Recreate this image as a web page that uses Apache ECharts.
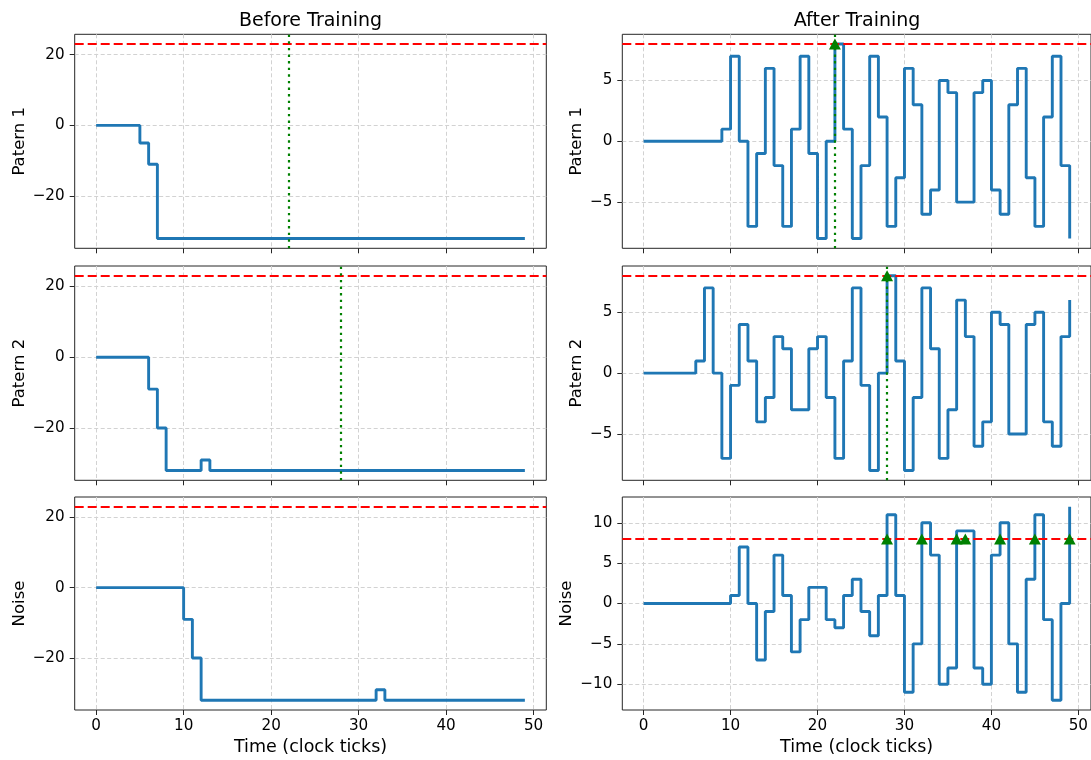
<!DOCTYPE html>
<html><head><meta charset="utf-8">
<script src="https://cdn.jsdelivr.net/npm/echarts@6/dist/echarts.min.js"></script>
<style>html,body{margin:0;padding:0;background:#fff}#c{width:1091px;height:760px}</style>
</head><body><div id="c"></div>
<script>
// ---------- data ----------
const times = [0,1,2,3,4,5,6,7,8,9,10,11,12,13,14,15,16,17,18,19,20,21,22,23,24,25,26,27,28,29,30,31,32,33,34,35,36,37,38,39,40,41,42,43,44,45,46,47,48,49];

const p1Before = [
  0,0,0,0,0,-5,-11,-32,-32,-32,
  -32,-32,-32,-32,-32,-32,-32,-32,-32,-32,
  -32,-32,-32,-32,-32,-32,-32,-32,-32,-32,
  -32,-32,-32,-32,-32,-32,-32,-32,-32,-32,
  -32,-32,-32,-32,-32,-32,-32,-32,-32,-32];
const p2Before = [
  0,0,0,0,0,0,-9,-20,-32,-32,
  -32,-32,-29,-32,-32,-32,-32,-32,-32,-32,
  -32,-32,-32,-32,-32,-32,-32,-32,-32,-32,
  -32,-32,-32,-32,-32,-32,-32,-32,-32,-32,
  -32,-32,-32,-32,-32,-32,-32,-32,-32,-32];
const noiseBefore = [
  0,0,0,0,0,0,0,0,0,0,
  -9,-20,-32,-32,-32,-32,-32,-32,-32,-32,
  -32,-32,-32,-32,-32,-32,-32,-32,-32,-32,
  -32,-32,-29,-32,-32,-32,-32,-32,-32,-32,
  -32,-32,-32,-32,-32,-32,-32,-32,-32,-32];

const p1After = [
  0,0,0,0,0,0,0,0,0,1,
  7,0,-7,-1,6,-2,-7,1,7,-1,
  -8,0,8,1,-8,-2,7,2,-7,-3,
  6,3,-6,-4,5,4,-5,-5,4,5,
  -4,-6,3,6,-3,-7,2,7,-2,-8];
const p2After = [
  0,0,0,0,0,0,1,7,0,-7,
  -1,4,1,-4,-2,3,2,-3,-3,2,
  3,-2,-7,1,7,-1,-8,0,8,1,
  -8,-2,7,2,-7,-3,6,3,-6,-4,
  5,4,-5,-5,4,5,-4,-6,3,6];
const noiseAfter = [
  0,0,0,0,0,0,0,0,0,0,
  1,7,0,-7,-1,6,1,-6,-2,2,
  2,-2,-3,1,3,-1,-4,1,11,1,
  -11,-5,10,6,-10,-8,9,9,-8,-10,
  6,10,-5,-11,3,11,-2,-12,0,12];

const thresholdBefore = 23;
const thresholdAfter = 8;
const targetTimes = [22, 28];           // pattern 1, pattern 2
const spikesP1After = [22];
const spikesP2After = [28];
const spikesNoiseAfter = [28, 32, 36, 37, 41, 45, 49];

const rowLabels = ['Patern 1', 'Patern 2', 'Noise'];
const colTitles = ['Before Training', 'After Training'];
const xLabel = 'Time (clock ticks)';
const xTicks = [0, 10, 20, 30, 40, 50];
const yTicksBefore = [-20, 0, 20];
const yTicksAfterPattern = [-5, 0, 5];
const yTicksAfterNoise = [-10, -5, 0, 5, 10];

// ---------- layout ----------
const FONT = "'DejaVu Sans', sans-serif";
const colLeft = [74.7, 622.3];
const gridW = 471.6;
const rowTop = [34.3, 266, 497];
const rowH = [214, 214.3, 213];
const xRange = [-2.45, 51.45];

const panels = [
  {data: p1Before, thr: thresholdBefore, target: targetTimes[0], spikes: [], yr: [-34.75, 25.75], yt: yTicksBefore, split: 3, gap: 46},
  {data: p1After, thr: thresholdAfter, target: targetTimes[0], spikes: spikesP1After, yr: [-8.8, 8.8], yt: yTicksAfterPattern, split: 4, gap: 37},
  {data: p2Before, thr: thresholdBefore, target: targetTimes[1], spikes: [], yr: [-34.75, 25.75], yt: yTicksBefore, split: 3, gap: 46},
  {data: p2After, thr: thresholdAfter, target: targetTimes[1], spikes: spikesP2After, yr: [-8.8, 8.8], yt: yTicksAfterPattern, split: 4, gap: 37},
  {data: noiseBefore, thr: thresholdBefore, target: null, spikes: [], yr: [-34.75, 25.75], yt: yTicksBefore, split: 3, gap: 46},
  {data: noiseAfter, thr: thresholdAfter, target: null, spikes: spikesNoiseAfter, yr: [-13.2, 13.2], yt: yTicksAfterNoise, split: 5, gap: 47.5}
];

const fmt = v => (v < 0 ? '\u2212' + Math.abs(v) : String(v));
const grid = [], xAxis = [], yAxis = [], series = [];
const gridLine = {show: true, lineStyle: {color: '#d2d2d2', type: [4, 2.5], width: 1}};

panels.forEach((p, i) => {
  const row = Math.floor(i / 2), col = i % 2;
  grid.push({left: colLeft[col], top: rowTop[row], width: gridW, height: rowH[row],
    show: true, borderColor: '#262626', borderWidth: 1, backgroundColor: 'transparent', containLabel: false});
  xAxis.push({type: 'value', gridIndex: i, min: xRange[0], max: xRange[1], splitNumber: 5, position: 'bottom',
    axisLine: {show: false, onZero: false},
    axisTick: {show: true, inside: false, customValues: xTicks, length: 5, lineStyle: {color: '#262626', width: 1}},
    axisLabel: {show: row === 2, customValues: xTicks, margin: 8.5, fontSize: 15.2, color: '#000', fontFamily: FONT, formatter: fmt},
    splitLine: gridLine,
    name: row === 2 ? xLabel : '', nameLocation: 'middle', nameGap: 28.5,
    nameTextStyle: {fontSize: 17.5, color: '#000', fontFamily: FONT}});
  yAxis.push({type: 'value', gridIndex: i, min: p.yr[0], max: p.yr[1], splitNumber: p.split, position: 'left',
    axisLine: {show: false, onZero: false},
    axisTick: {show: true, inside: false, customValues: p.yt, length: 5, lineStyle: {color: '#262626', width: 1}},
    axisLabel: {show: true, customValues: p.yt, margin: 10, fontSize: 15.2, color: '#000', fontFamily: FONT, formatter: fmt},
    splitLine: gridLine,
    name: rowLabels[row], nameLocation: 'middle', nameGap: p.gap,
    nameTextStyle: {fontSize: 16.5, color: '#000', fontFamily: FONT}});

  series.push({type: 'line', xAxisIndex: i, yAxisIndex: i, step: 'end', showSymbol: false, symbol: 'none',
    data: times.map((t, k) => [t, p.data[k]]), clip: true, z: 2,
    lineStyle: {color: '#1f77b4', width: 2.9}, itemStyle: {color: '#1f77b4'}});

  const ml = [{yAxis: p.thr, lineStyle: {color: '#ff0000', type: [9, 4], width: 2}}];
  if (p.target !== null) ml.push({xAxis: p.target, lineStyle: {color: '#008000', type: [2.4, 4.2], width: 2.2}});
  series.push({type: 'line', xAxisIndex: i, yAxisIndex: i, data: [], z: 5, symbol: 'none',
    markLine: {silent: true, symbol: ['none', 'none'], label: {show: false}, animation: false, data: ml}});

  if (p.spikes.length) {
    series.push({type: 'scatter', xAxisIndex: i, yAxisIndex: i, symbol: 'triangle', symbolSize: [12, 11],
      itemStyle: {color: '#008000', opacity: 1}, z: 10,
      data: p.spikes.map(t => [t, p.thr])});
  }
});

const graphic = colTitles.map((t, c) => ({type: 'text', x: colLeft[c] + gridW / 2 - (c === 1 ? 1 : 0), y: 20.7,
  style: {text: t, align: 'center', verticalAlign: 'middle', fontSize: 19, fontFamily: FONT, fill: '#000'}}));

const chart = echarts.init(document.getElementById('c'), null, {renderer: 'canvas'});
chart.setOption({animation: false, backgroundColor: '#fff', grid, xAxis, yAxis, series, graphic});
</script></body></html>
